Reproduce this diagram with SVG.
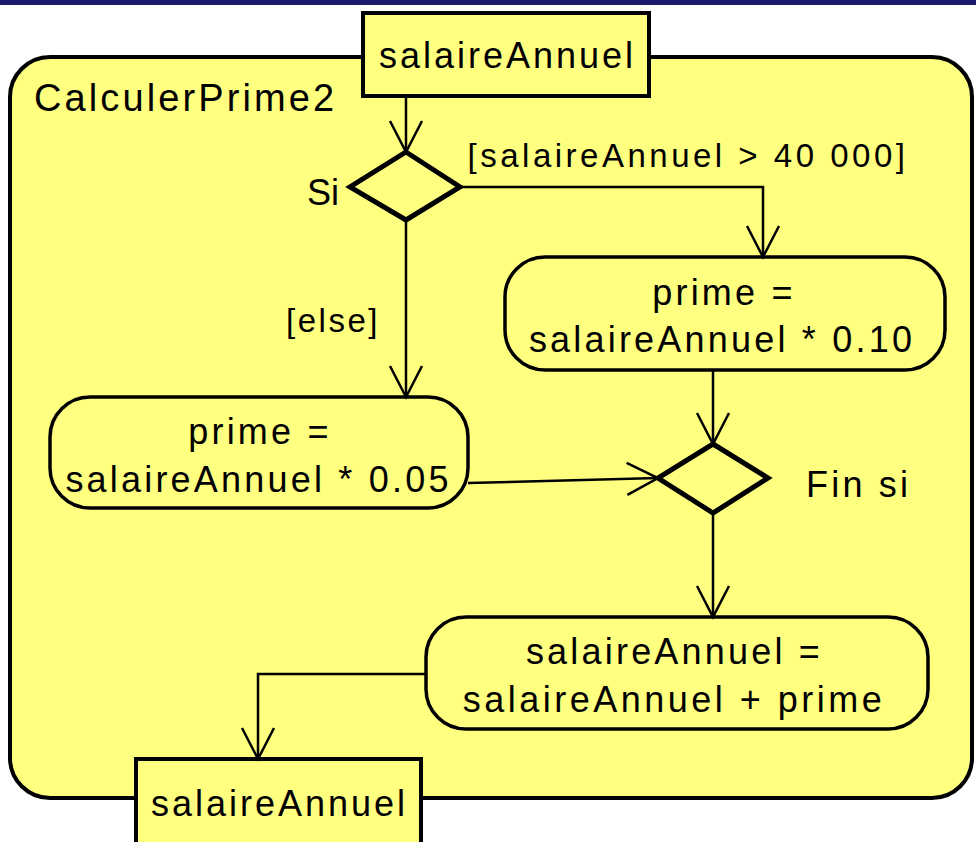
<svg xmlns="http://www.w3.org/2000/svg" width="976" height="842" viewBox="0 0 976 842">
  <style>
    .frame { fill: #ffff80; stroke: #000; stroke-width: 4; }
    .pin { fill: #ffff80; stroke: #000; stroke-width: 4; }
    .action { fill: #ffff80; stroke: #000; stroke-width: 3.5; }
    .decision { fill: #ffff80; stroke: #000; stroke-width: 5; stroke-linejoin: miter; }
    .flow { fill: none; stroke: #000; stroke-width: 2.5; }
    .txt { font-family: "Liberation Sans", Arial, Helvetica, sans-serif; font-size: 36px; letter-spacing: 3.2px; fill: #000; }
    .mid { text-anchor: middle; }
    .guard { font-size: 33px; letter-spacing: 3.5px; }
  </style>
  <defs>
    <marker id="open" markerUnits="userSpaceOnUse" markerWidth="40" markerHeight="40" viewBox="-34 -20 40 40" refX="0" refY="0" orient="auto">
      <path d="M-31 -16 L0 0 L-31 16" fill="none" stroke="#000" stroke-width="2.5"/>
    </marker>
  </defs>

  <rect width="976" height="842" fill="#ffffff"/>
  <rect x="0" y="0" width="976" height="5" fill="#1a1a6e"/>

  <!-- activity frame -->
  <g id="activity">
    <rect class="frame" x="10" y="57" width="962" height="741" rx="40" ry="40"/>
    <text class="txt" x="34" y="111" style="font-size:38px;letter-spacing:3.1px">CalculerPrime2</text>
  </g>

  <!-- input parameter -->
  <g id="param-in">
    <rect class="pin" x="363" y="13" width="286" height="83"/>
    <text class="txt mid" x="507.5" y="68" style="letter-spacing:3px">salaireAnnuel</text>
  </g>

  <!-- output parameter -->
  <g id="param-out">
    <rect class="pin" x="136" y="759" width="285" height="100"/>
    <text class="txt mid" x="279.5" y="816" style="letter-spacing:3px">salaireAnnuel</text>
  </g>

  <!-- decision: Si -->
  <g id="decision-si">
    <polygon class="decision" points="406,152 460,187 406,220 350,187"/>
    <text class="txt" x="307" y="205" style="letter-spacing:0">Si</text>
  </g>

  <!-- action: prime = salaireAnnuel * 0.10 -->
  <g id="action-high">
    <rect class="action" x="505" y="257" width="440" height="113" rx="40" ry="40"/>
    <text class="txt mid" x="724" y="305">prime =</text>
    <text class="txt mid" x="722" y="352">salaireAnnuel * 0.10</text>
  </g>

  <!-- action: prime = salaireAnnuel * 0.05 -->
  <g id="action-low">
    <rect class="action" x="50" y="397" width="418" height="111" rx="40" ry="40"/>
    <text class="txt mid" x="260" y="444">prime =</text>
    <text class="txt mid" x="258.5" y="492">salaireAnnuel * 0.05</text>
  </g>

  <!-- merge: Fin si -->
  <g id="merge-finsi">
    <polygon class="decision" points="713,444 768,478 713,513 658,478"/>
    <text class="txt" x="806" y="497">Fin si</text>
  </g>

  <!-- action: salaireAnnuel = salaireAnnuel + prime -->
  <g id="action-update">
    <rect class="action" x="426" y="617" width="502" height="112" rx="40" ry="40"/>
    <text class="txt mid" x="674.5" y="664">salaireAnnuel =</text>
    <text class="txt mid" x="674" y="712" style="letter-spacing:3.5px">salaireAnnuel + prime</text>
  </g>

  <!-- control flows -->
  <g id="connectors">
    <path class="flow" d="M406 96 V152" marker-end="url(#open)"/>
    <path class="flow" d="M460 187 H763 V257" marker-end="url(#open)"/>
    <path class="flow" d="M406 220 V397" marker-end="url(#open)"/>
    <path class="flow" d="M468 483 L658 478" marker-end="url(#open)"/>
    <path class="flow" d="M713 370 V444" marker-end="url(#open)"/>
    <path class="flow" d="M713 513 V617" marker-end="url(#open)"/>
    <path class="flow" d="M426 674 H258 V759" marker-end="url(#open)"/>
    <text class="txt mid guard" x="688" y="167">[salaireAnnuel &gt; 40 000]</text>
    <text class="txt mid guard" x="333" y="332" style="letter-spacing:2.5px">[else]</text>
  </g>
</svg>
